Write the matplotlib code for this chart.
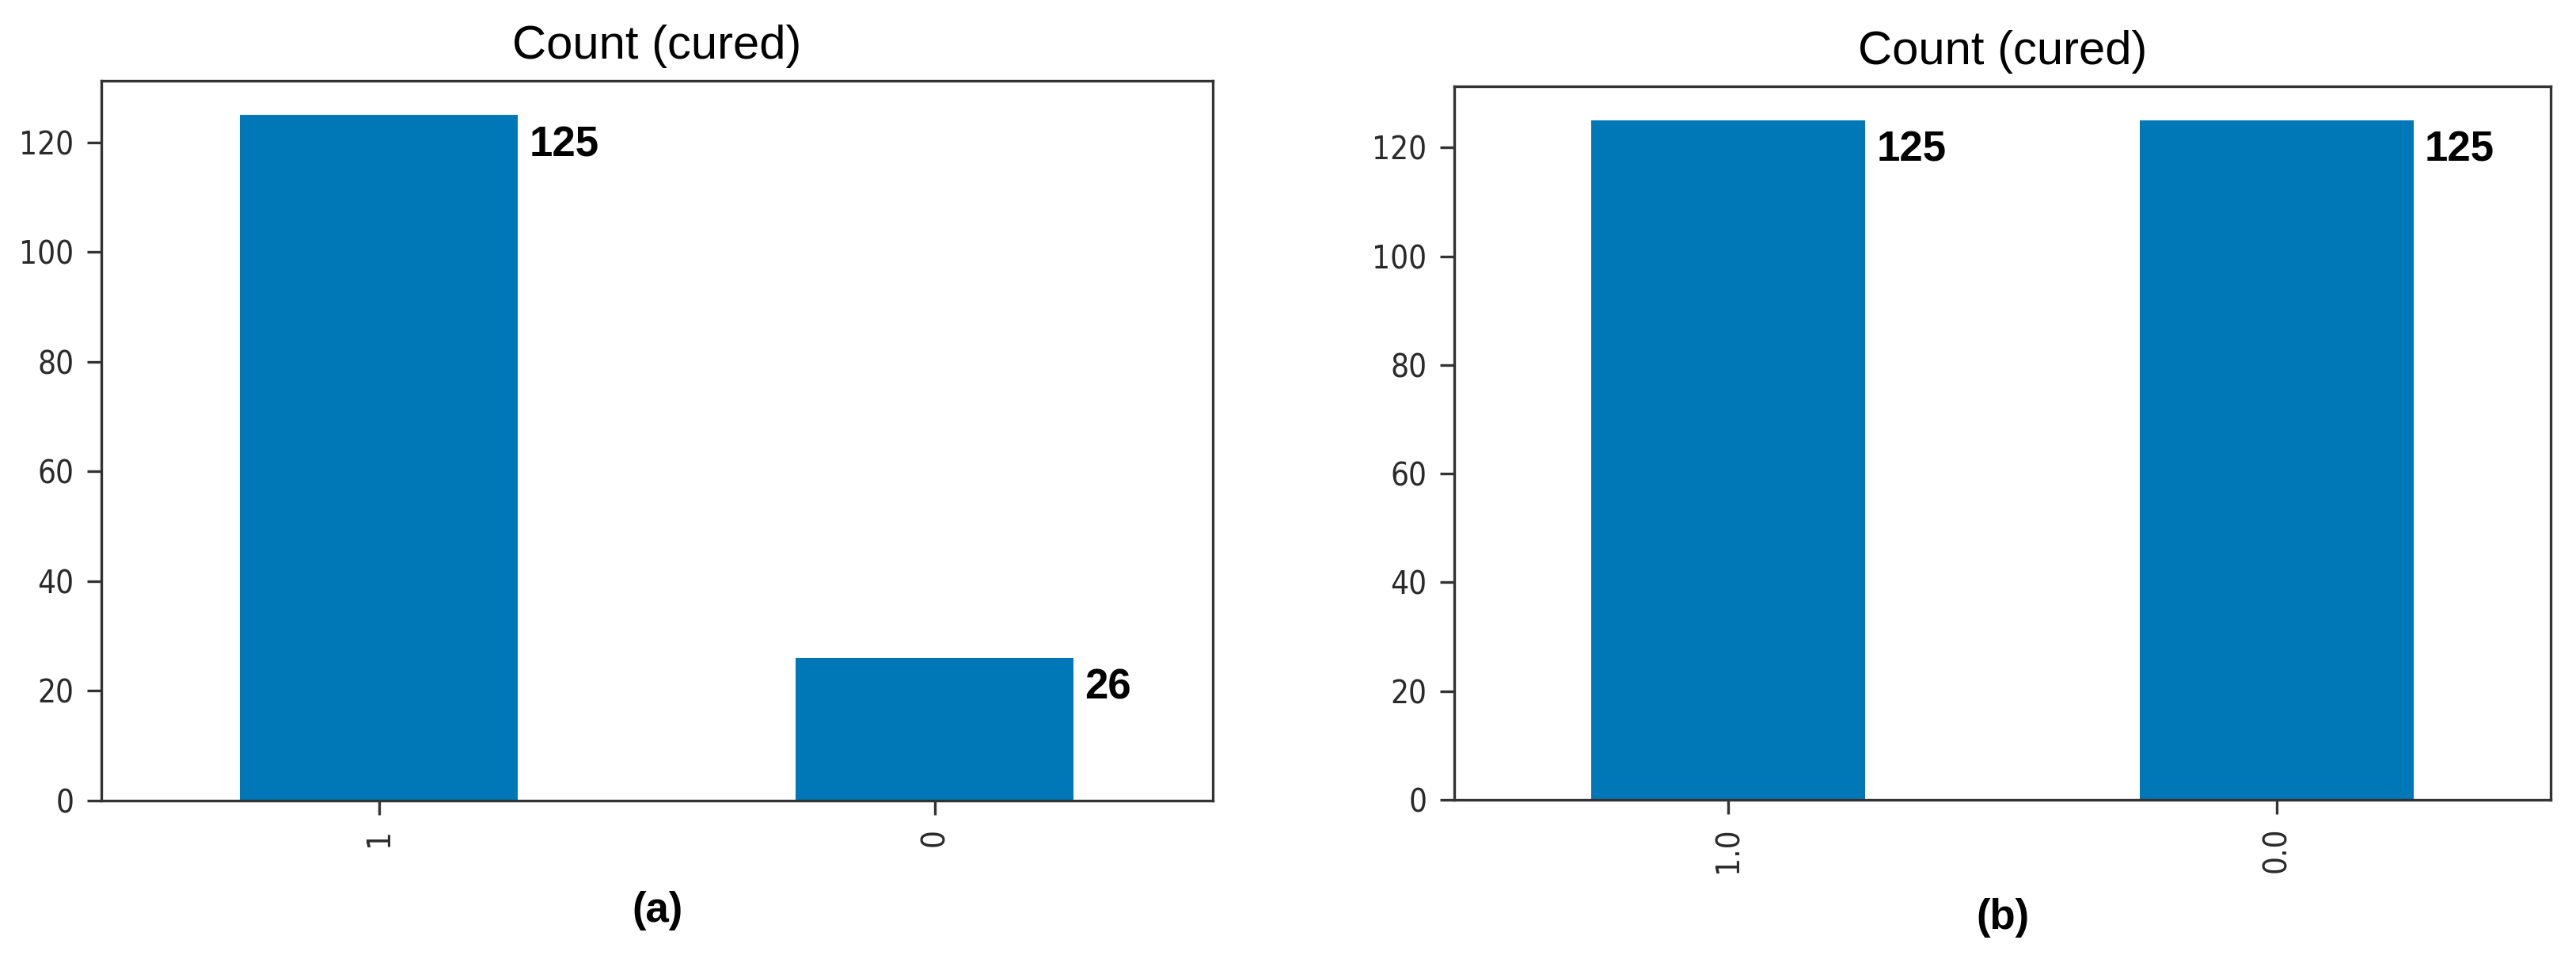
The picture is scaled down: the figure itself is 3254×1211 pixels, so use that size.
import matplotlib
matplotlib.use("Agg")
import matplotlib.pyplot as plt

# valores
categorias_a = ["1", "0"]
contagem_a = [125, 26]
categorias_b = ["1.0", "0.0"]
contagem_b = [125, 125]
titulo = "Count (cured)"
rotulos = ["(a)", "(b)"]

cor_barra = "#0077b6"
cor_eixo = "#333333"

fig = plt.figure(figsize=(32.55, 12.11), dpi=100)
ax_a = fig.add_axes([0.0393, 0.1652, 0.4313, 0.7506])
ax_b = fig.add_axes([0.5644, 0.1660, 0.4255, 0.7440])


def desenha(ax, categorias, valores):
    pos = list(range(len(categorias)))
    ax.bar(pos, valores, width=0.5, color=cor_barra)
    ax.set_xlim(-0.5, len(categorias) - 0.5)
    ax.set_xticks(pos)
    ax.set_xticklabels(categorias, rotation=90)
    ax.set_yticks([0, 20, 40, 60, 80, 100, 120])
    for s in ax.spines.values():
        s.set_linewidth(2.4)
        s.set_color(cor_eixo)
    ax.tick_params(length=13, width=2.4, pad=12, labelsize=29,
                   colors=cor_eixo, labelcolor="#2a2a2a")
    for lab in ax.get_xticklabels() + ax.get_yticklabels():
        lab.set_family("DejaVu Sans")
        lab.set_fontstretch("condensed")
    ax.set_title(titulo, fontsize=43, family="Liberation Sans", pad=20)
    for x, v in zip(pos, valores):
        ax.text(x + 0.25 + 0.02, v - 5.5, str(v), va="center", ha="left",
                fontsize=38, fontweight="bold", family="Liberation Sans")


desenha(ax_a, categorias_a, contagem_a)
desenha(ax_b, categorias_b, contagem_b)

fig.text(0.255, 0.0504, rotulos[0], ha="center", va="center", fontsize=38,
         fontweight="bold", family="Liberation Sans")
fig.text(0.7772, 0.043, rotulos[1], ha="center", va="center", fontsize=38,
         fontweight="bold", family="Liberation Sans")

fig.savefig("out.png", dpi=100)
